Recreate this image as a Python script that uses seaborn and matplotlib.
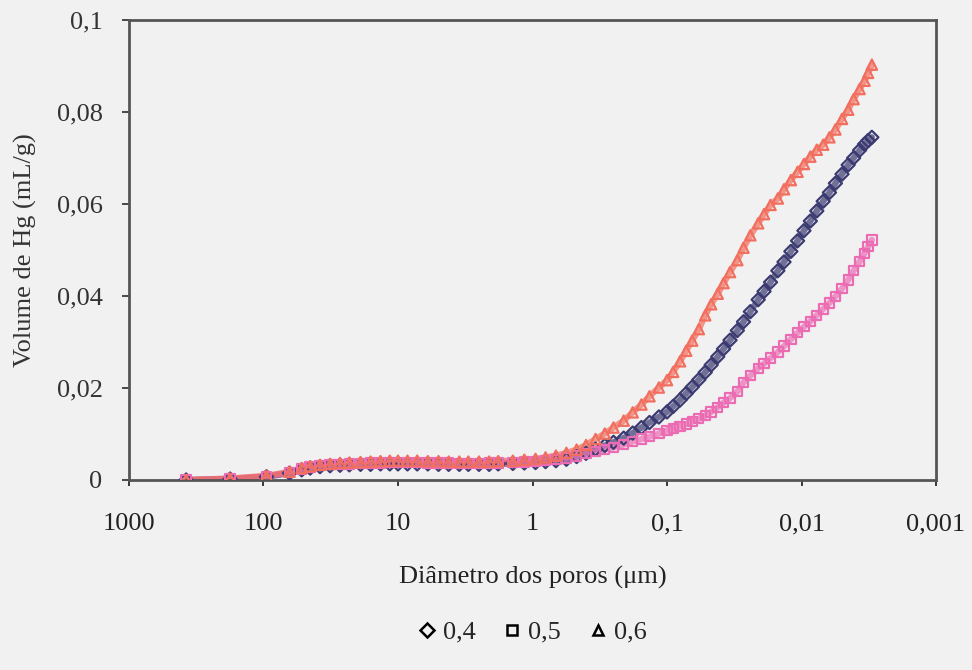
import numpy as np
import pandas as pd
import matplotlib
matplotlib.use('Agg')
import matplotlib.pyplot as plt
from matplotlib.lines import Line2D
import seaborn as sns

sns.set_theme(style='white')
plt.rcParams['font.family'] = ['Liberation Serif', 'DejaVu Serif']

# diâmetro dos poros (um), mesmos degraus de pressão para as três amostras
diametro = [376, 177, 95, 64, 52, 45, 38, 32, 27, 23, 19, 16, 13.5, 11.5,
            10, 8.5, 7.2, 6, 5, 4.2, 3.5, 3, 2.5, 2.1,
            1.8, 1.4, 1.15, 0.95, 0.8, 0.67, 0.56, 0.47, 0.4, 0.34,
            0.29, 0.25, 0.21, 0.18, 0.155, 0.135, 0.115, 0.1, 0.09, 0.08,
            0.072, 0.065, 0.058, 0.052, 0.047, 0.042, 0.038, 0.034, 0.03, 0.027,
            0.024, 0.021, 0.019, 0.017, 0.015, 0.0135, 0.012, 0.0107, 0.0096, 0.0086,
            0.0077, 0.0069, 0.0062, 0.0056, 0.005, 0.0045, 0.0041, 0.0037, 0.0034, 0.0032,
            0.003]

# volume de Hg (mL/g)
vol_04 = [0, 0.0002, 0.0007, 0.0015, 0.0022, 0.0026, 0.0029, 0.0031, 0.0032, 0.0033, 0.0034, 0.0034, 0.0035, 0.0035,
          0.0035, 0.0035, 0.0035, 0.0035, 0.0034, 0.0034, 0.0034, 0.0034, 0.0034, 0.0034,
          0.0035, 0.0036, 0.0037, 0.0038, 0.004, 0.0042, 0.0045, 0.0051, 0.0058, 0.0067,
          0.0075, 0.0082, 0.0091, 0.0102, 0.0114, 0.0125, 0.0137, 0.0148, 0.016, 0.0174,
          0.0188, 0.0202, 0.0218, 0.0234, 0.025, 0.0268, 0.0285, 0.0304, 0.0325, 0.0344,
          0.0366, 0.0392, 0.041, 0.043, 0.0455, 0.0474, 0.0497, 0.052, 0.0542, 0.0563,
          0.0585, 0.0606, 0.0625, 0.0645, 0.0665, 0.0685, 0.07, 0.0717, 0.073, 0.0738,
          0.0745]
vol_05 = [0, 0.0003, 0.0008, 0.0016, 0.0024, 0.0028, 0.0031, 0.0033, 0.0034, 0.0035, 0.0036, 0.0037, 0.0037, 0.0038,
          0.0038, 0.0038, 0.0038, 0.0037, 0.0037, 0.0037, 0.0036, 0.0036, 0.0036, 0.0037,
          0.0037, 0.0038, 0.0039, 0.004, 0.0042, 0.0045, 0.0048, 0.0052, 0.0057, 0.0062,
          0.0067, 0.0071, 0.0077, 0.0084, 0.0089, 0.0094, 0.0101, 0.0108, 0.0112, 0.0117,
          0.0122, 0.0127, 0.0133, 0.014, 0.0148, 0.0158, 0.0168, 0.0178, 0.0192, 0.0212,
          0.0227, 0.0243, 0.0253, 0.0265, 0.0278, 0.0291, 0.0306, 0.032, 0.0333, 0.0345,
          0.0358, 0.0372, 0.0385, 0.0399, 0.0416, 0.0435, 0.0455, 0.0475, 0.0493, 0.0507,
          0.0522]
vol_06 = [0, 0.0003, 0.0009, 0.0018, 0.0026, 0.003, 0.0033, 0.0035, 0.0037, 0.0038, 0.0039, 0.004, 0.0041, 0.0042,
          0.0042, 0.0042, 0.0042, 0.0041, 0.0041, 0.004, 0.004, 0.004, 0.004, 0.004,
          0.0041, 0.0042, 0.0044, 0.0046, 0.0049, 0.0053, 0.0059, 0.0066, 0.0076, 0.0089,
          0.0101, 0.0114, 0.0129, 0.0147, 0.0164, 0.0182, 0.0201, 0.0217, 0.0235, 0.0258,
          0.0281, 0.0303, 0.0328, 0.0358, 0.0382, 0.0405, 0.0428, 0.0452, 0.0478, 0.0505,
          0.0532, 0.0558, 0.0578, 0.0598, 0.0612, 0.0632, 0.0652, 0.067, 0.0687, 0.0703,
          0.0718, 0.0729, 0.0745, 0.0762, 0.0785, 0.0805, 0.0828, 0.085, 0.0868, 0.0885,
          0.0903]

series = ['0,4', '0,5', '0,6']
marcadores = {'0,4': 'D', '0,5': 's', '0,6': '^'}
cores = {'0,4': '#3b3b72', '0,5': '#ec6cb4', '0,6': '#f26e5e'}
tamanhos = {'0,4': 45, '0,5': 45, '0,6': 55}

df = pd.DataFrame({'diam': diametro * 3,
                   'vol': vol_04 + vol_05 + vol_06,
                   'serie': ['0,4'] * len(diametro) + ['0,5'] * len(diametro) + ['0,6'] * len(diametro)})

fundo = '#f1f1f1'
fig = plt.figure(figsize=(9.72, 6.70), dpi=100, facecolor=fundo)
ax = fig.add_axes([0.1327, 0.2836, 0.8303, 0.6865])
ax.set_facecolor(fundo)

for s in series:
    sub = df[df['serie'] == s]
    # os pontos do original estão tão juntos que formam uma faixa contínua
    sns.lineplot(x='diam', y='vol', data=sub, color=cores[s], linewidth=4.5, alpha=0.7,
                 estimator=None, sort=False, ax=ax, zorder=2)
    sns.scatterplot(x='diam', y='vol', data=sub, marker=marcadores[s], s=tamanhos[s],
                    facecolor='none', edgecolor=cores[s], linewidth=1.6, ax=ax, zorder=3)

ax.set_xscale('log')
ax.set_xlim(1000, 0.001)
ax.set_ylim(0, 0.1)
ax.set_xticks([1000, 100, 10, 1, 0.1, 0.01, 0.001])
ax.set_xticklabels(['1000', '100', '10', '1', '0,1', '0,01', '0,001'])
ax.minorticks_off()
ax.set_yticks([0, 0.02, 0.04, 0.06, 0.08, 0.1])
ax.set_yticklabels(['0', '0,02', '0,04', '0,06', '0,08', '0,1'])
ax.tick_params(axis='x', length=4, pad=20, labelsize=19, colors='#222222', direction='out', bottom=True)
ax.tick_params(axis='y', length=5, pad=14, labelsize=19, colors='#333333', direction='out', left=True)

for sp in ax.spines.values():
    sp.set_color('#555555')
    sp.set_linewidth(2)

ax.set_xlabel('Diâmetro dos poros (μm)', fontsize=19, color='#222222', labelpad=22)
ax.set_ylabel('Volume de Hg (mL/g)', fontsize=19, color='#333333', labelpad=14)

handles = [Line2D([], [], marker=marcadores[s], color='black', markerfacecolor='none',
                  markeredgewidth=1.8, linestyle='none', markersize=7) for s in series]
fig.legend(handles, series, loc='center', bbox_to_anchor=(530 / 972, 1 - 632 / 670), ncol=3,
           frameon=False, fontsize=19, handletextpad=0.1, columnspacing=0.9, handlelength=1.0)

fig.savefig('out.png', dpi=100, facecolor=fundo)
